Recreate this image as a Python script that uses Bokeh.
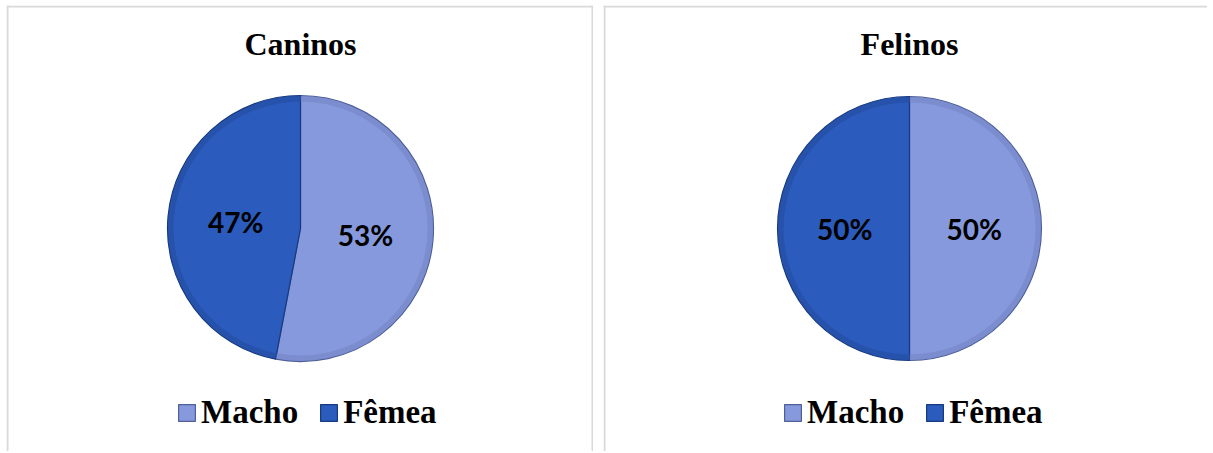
import numpy as np
from bokeh.plotting import figure
from bokeh.models import Range1d, Label, Legend, LegendItem, ColumnDataSource, Span
from bokeh.core.properties import value
from bokeh.layouts import row
from bokeh.embed import file_html
from bokeh.resources import INLINE

# ---- data ----
categories = ["Macho", "Fêmea"]
caninos = [53, 47]
felinos = [50, 50]
titles = ["Caninos", "Felinos"]

fill_colors = ["#8699dc", "#2a5bbd"]
rim_colors = ["#6f82c2", "#21499c"]
edge_colors = ["#4f6099", "#173a7e"]

H = 446
BORDER = "#d9d9d9"


def make_panel(title, vals, W, cx, cy, r, legend_x, legend_y, right_border):
    p = figure(width=W, height=H, x_range=Range1d(0, W), y_range=Range1d(0, H),
               output_backend="svg", toolbar_location=None, min_border=0)
    p.axis.visible = False
    p.grid.visible = False
    p.outline_line_color = None
    p.background_fill_color = "white"
    p.border_fill_color = "white"

    # panel frame (top, left, right) like the original chart boxes
    p.add_layout(Span(location=H - 1, dimension="width", line_color=BORDER, line_width=2))
    p.add_layout(Span(location=1, dimension="height", line_color=BORDER, line_width=2))
    if right_border:
        p.add_layout(Span(location=W - 1, dimension="height", line_color=BORDER, line_width=2))

    fr = np.array(vals, dtype=float) / sum(vals)
    start = np.pi / 2 - np.concatenate([[0.0], np.cumsum(fr)[:-1]]) * 2 * np.pi
    end = start - fr * 2 * np.pi
    src = ColumnDataSource(dict(
        x=[cx] * len(vals), y=[cy] * len(vals), start=start, end=end,
        fill=fill_colors, rim=rim_colors, edge=edge_colors,
        label=[f"{v}%" for v in vals],
        lx=cx + 0.49 * r * np.cos((start + end) / 2),
        ly=cy + 0.49 * r * np.sin((start + end) / 2),
        cat=categories,
    ))
    w = p.wedge(x="x", y="y", radius=r, start_angle="start", end_angle="end",
                direction="clock", fill_color="fill", line_color="edge",
                line_width=1.2, source=src)
    # subtle darker rim for a bevelled look
    p.annular_wedge(x="x", y="y", inner_radius=r - 6, outer_radius=r - 0.6,
                    start_angle="start", end_angle="end", direction="clock",
                    fill_color="rim", fill_alpha=0.5, line_color=None, source=src)
    p.text(x="lx", y="ly", text="label", source=src,
           text_font=value("Lato"), text_font_style="bold", text_font_size="28px",
           text_align="center", text_baseline="middle", text_color="black")

    p.add_layout(Label(x=cx, y=H - 38.5, text=title, text_align="center",
                       text_baseline="middle", text_font="Liberation Serif",
                       text_font_style="bold", text_font_size="32px",
                       text_color="black"))

    legend = Legend(items=[LegendItem(label=c, renderers=[w], index=i)
                           for i, c in enumerate(categories)],
                    orientation="horizontal", location=(legend_x, legend_y),
                    label_text_font="Liberation Serif", label_text_font_style="bold",
                    label_text_font_size="33px", label_text_color="black",
                    glyph_width=21, glyph_height=21, label_standoff=4,
                    spacing=20, padding=0, margin=0,
                    border_line_color=None, background_fill_alpha=0)
    p.add_layout(legend)
    return p


p1 = make_panel(titles[0], caninos, 587, 294, 223, 133, 170, 20, True)
p2 = make_panel(titles[1], felinos, 604, 306, 223, 132, 179, 20, False)

layout = row(p1, p2, spacing=10, margin=(5, 0, 0, 6))
open("out.html", "w").write(file_html(layout, INLINE))
